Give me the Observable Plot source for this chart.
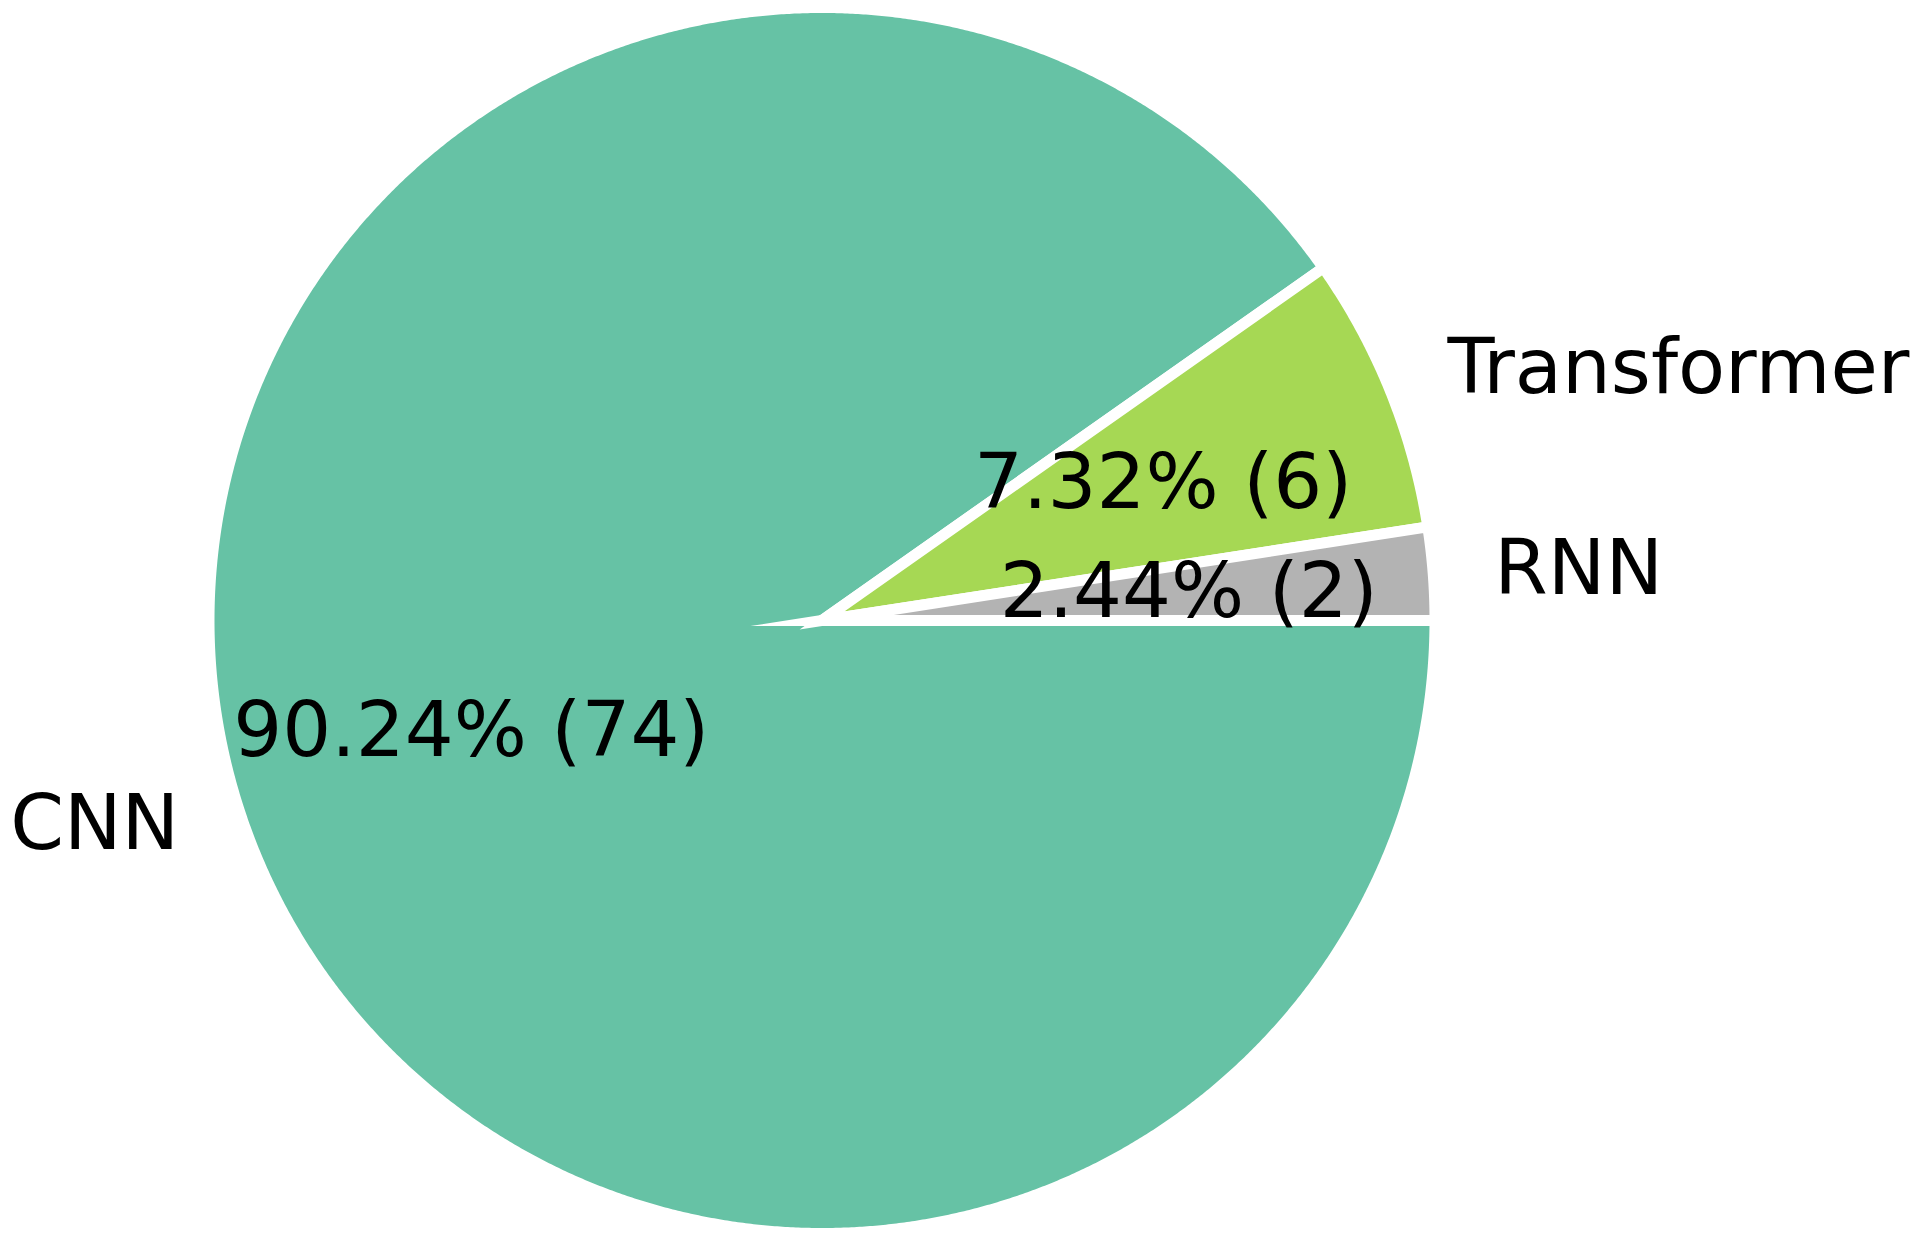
<!DOCTYPE html>
<html>
<head>
<meta charset="utf-8">
<script src="https://cdn.jsdelivr.net/npm/d3@7"></script>
<script src="https://cdn.jsdelivr.net/npm/@observablehq/plot@0.6"></script>
<style>
  html, body { margin: 0; padding: 0; background: #ffffff; }
  #chart svg { display: block; }
</style>
</head>
<body>
<div id="chart"></div>
<script>
// ---- data ----
const categories = ["CNN", "Transformer", "RNN"];
const counts = [74, 6, 2];
const sliceColors = ["#66c2a5", "#a6d854", "#b3b3b3"];

// ---- layout ----
const W = 1928, H = 1247;
const R = 613;              // pie radius in px
const CX = 821.5, CY = 620; // pie centre in px
const FS = 77;
const total = d3.sum(counts);

// Build wedge outlines (start at 0°, clockwise; drawn in data order)
const wedgePts = [];
const labelRows = [];
const pctRows = [];
let acc = 0;
categories.forEach((name, i) => {
  const a0 = -acc / total * 2 * Math.PI;
  acc += counts[i];
  const a1 = -acc / total * 2 * Math.PI;
  wedgePts.push({name, x: 0, y: 0});
  const n = Math.max(4, Math.ceil(Math.abs(a1 - a0) / (Math.PI / 720)));
  for (let k = 0; k <= n; k++) {
    const a = a0 + (a1 - a0) * k / n;
    wedgePts.push({name, x: Math.cos(a), y: Math.sin(a)});
  }
  const am = (a0 + a1) / 2;
  labelRows.push({name, x: 1.1 * Math.cos(am), y: 1.1 * Math.sin(am),
                  anchor: Math.cos(am) < 0 ? "end" : "start"});
  pctRows.push({text: `${(counts[i] / total * 100).toFixed(2)}% (${counts[i]})`,
                x: 0.6 * Math.cos(am), y: 0.6 * Math.sin(am)});
});

const chart = Plot.plot({
  width: W,
  height: H,
  margin: 0,
  style: {background: "#ffffff", fontFamily: "DejaVu Sans, sans-serif"},
  x: {domain: [-CX / R, (W - CX) / R], axis: null},
  y: {domain: [-(H - CY) / R, CY / R], axis: null},
  color: {domain: categories, range: sliceColors},
  marks: [
    Plot.line(wedgePts, {
      x: "x", y: "y", z: "name", fill: "name",
      stroke: "white", strokeWidth: 11,
      strokeLinejoin: "miter", strokeMiterlimit: 20,
      curve: "linear-closed"
    }),
    Plot.text(labelRows.filter(d => d.anchor === "start"), {
      x: "x", y: "y", text: "name", textAnchor: "start",
      fontSize: FS, fill: "black", fontFamily: "DejaVu Sans"
    }),
    Plot.text(labelRows.filter(d => d.anchor === "end"), {
      x: "x", y: "y", text: "name", textAnchor: "end",
      fontSize: FS, fill: "black", fontFamily: "DejaVu Sans"
    }),
    Plot.text(pctRows, {
      x: "x", y: "y", text: "text", textAnchor: "middle",
      fontSize: FS, fill: "black", fontFamily: "DejaVu Sans"
    })
  ]
});
document.getElementById("chart").appendChild(chart);
</script>
</body>
</html>
